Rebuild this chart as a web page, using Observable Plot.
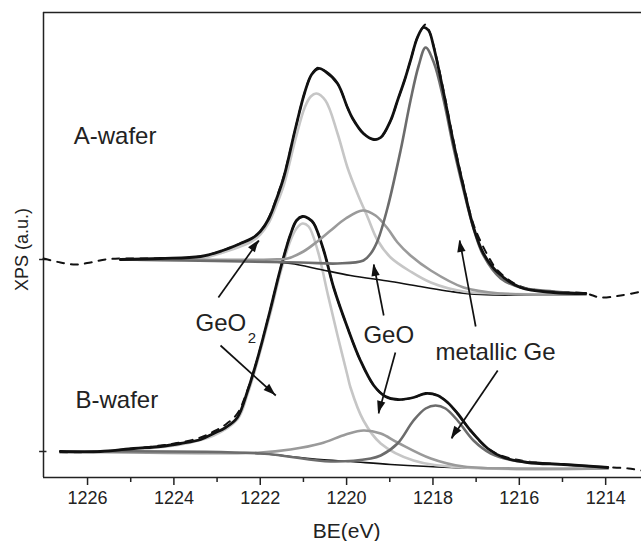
<!DOCTYPE html>
<html><head><meta charset="utf-8">
<script src="https://cdn.jsdelivr.net/npm/d3@7"></script>
<script src="https://cdn.jsdelivr.net/npm/@observablehq/plot@0.6"></script>
<style>body{margin:0;background:#fff;} #chart{width:641px;height:541px;}</style>
</head><body><div id="chart"></div>
<script>
// ---------- data: [binding energy (eV), intensity (a.u.)] ----------
// A-wafer
const aRaw = [[1227.02,219],[1226.63,215],[1226.28,213],[1225.93,215],[1225.58,218],[1225.24,219],[1224.31,219],[1223.38,221],[1222.87,227],[1222.46,234],[1222.20,239],[1222.00,246],[1221.80,260],[1221.62,280],[1221.45,302],[1221.18,350],[1220.97,385],[1220.81,403],[1220.65,410],[1220.49,406],[1220.21,394],[1219.98,370],[1219.86,359],[1219.61,344],[1219.37,338],[1219.21,340],[1218.98,357],[1218.82,377],[1218.66,397],[1218.52,417],[1218.36,440],[1218.17,453],[1218.10,448],[1217.98,431],[1217.75,386],[1217.52,336],[1217.29,292],[1217.06,253],[1216.73,222],[1216.50,207],[1215.97,191],[1215.21,186],[1214.46,184],[1214.12,180],[1213.65,182],[1213.17,186]];
const aEnvelope = [[1225.24,218],[1224.31,219],[1223.38,221],[1222.87,227],[1222.46,234],[1222.20,239],[1222.00,246],[1221.80,259],[1221.62,279],[1221.45,301],[1221.18,350],[1220.97,385],[1220.81,403],[1220.65,409],[1220.49,406],[1220.21,394],[1219.98,370],[1219.86,359],[1219.61,344],[1219.37,338],[1219.21,340],[1218.98,357],[1218.82,377],[1218.66,397],[1218.52,417],[1218.36,440],[1218.22,450],[1218.10,447],[1217.98,430],[1217.75,384],[1217.52,334],[1217.29,290],[1217.06,250],[1216.83,224],[1216.50,205],[1215.97,190],[1215.21,185],[1214.46,184]];
const aGeO2 = [[1225.24,218],[1223.38,219],[1222.87,225],[1222.20,236],[1222.00,243],[1221.80,255],[1221.62,273],[1221.45,293],[1221.18,339],[1220.97,370],[1220.83,381],[1220.70,384],[1220.49,377],[1220.21,344],[1219.98,310],[1219.75,284],[1219.51,260],[1219.28,237],[1218.98,220],[1218.52,206],[1218.05,195],[1217.29,186],[1216.43,184],[1214.46,183]];
const aGeO = [[1225.24,218],[1221.76,218],[1221.37,219],[1221.00,226],[1220.65,237],[1220.37,247],[1220.02,259],[1219.63,267],[1219.33,262],[1219.05,249],[1218.82,235],[1218.52,222],[1218.05,207],[1217.29,190],[1216.43,184],[1214.46,183]];
const aMetal = [[1225.24,218],[1221.07,215],[1220.21,214],[1219.61,217],[1219.44,224],[1219.28,237],[1219.05,270],[1218.75,327],[1218.52,377],[1218.33,412],[1218.17,430],[1217.98,415],[1217.75,377],[1217.52,329],[1217.29,287],[1217.06,249],[1216.83,222],[1216.43,199],[1215.97,190],[1215.21,186],[1214.46,184]];
const aBackground = [[1225.24,218],[1222.22,217],[1221.30,214],[1220.60,208],[1219.91,202],[1218.98,196],[1218.29,191],[1217.59,186],[1216.90,183],[1214.46,183]];
// B-wafer
const bRaw = [[1226.63,25],[1225.70,26],[1224.93,29],[1224.31,32],[1223.85,35],[1223.38,40],[1223.08,46],[1222.80,53],[1222.53,64],[1222.29,88],[1222.11,112],[1221.95,137],[1221.76,169],[1221.53,209],[1221.30,243],[1221.16,257],[1221.02,261],[1220.88,259],[1220.76,254],[1220.53,227],[1220.30,190],[1219.98,150],[1219.68,117],[1219.37,92],[1219.10,81],[1218.82,78],[1218.45,80],[1218.17,84],[1217.89,82],[1217.66,75],[1217.43,64],[1217.13,47],[1216.73,29],[1216.36,21],[1215.81,16],[1214.97,13],[1213.95,10],[1213.84,10],[1213.47,9],[1213.17,7]];
const bEnvelope = [[1226.63,26],[1225.70,26],[1224.93,29],[1224.31,31],[1223.85,34],[1223.38,38],[1223.08,44],[1222.80,50],[1222.53,60],[1222.29,87],[1222.11,112],[1221.95,137],[1221.76,169],[1221.53,209],[1221.30,243],[1221.16,257],[1221.02,261],[1220.88,259],[1220.76,254],[1220.53,227],[1220.30,190],[1219.98,150],[1219.68,117],[1219.37,92],[1219.10,81],[1218.82,78],[1218.45,80],[1218.17,84],[1217.89,82],[1217.66,75],[1217.43,64],[1217.13,47],[1216.73,29],[1216.36,20],[1215.81,15],[1214.97,13],[1213.95,10]];
const bGeO2 = [[1226.63,25],[1224.93,28],[1223.85,33],[1223.08,42],[1222.53,58],[1222.29,84],[1222.11,109],[1221.95,134],[1221.76,165],[1221.53,205],[1221.30,237],[1221.16,249],[1221.02,254],[1220.88,251],[1220.67,227],[1220.44,184],[1220.21,142],[1219.98,102],[1219.91,90],[1219.61,57],[1219.21,34],[1218.45,17],[1217.29,10],[1213.95,9]];
const bGeO = [[1226.63,26],[1221.99,25],[1221.30,28],[1220.60,34],[1220.02,43],[1219.61,47],[1219.21,44],[1218.82,35],[1218.05,19],[1217.29,11],[1213.95,9]];
const bMetal = [[1226.63,26],[1221.99,24],[1220.37,16],[1219.44,19],[1219.21,22],[1218.82,34],[1218.45,57],[1218.17,69],[1217.94,72],[1217.71,69],[1217.43,57],[1217.06,37],[1216.66,24],[1216.13,17],[1214.97,13],[1213.95,10]];
const bBackground = [[1226.63,26],[1223.38,25],[1221.99,24],[1221.30,21],[1220.60,18],[1219.91,16],[1218.98,13],[1217.59,10],[1215.97,9],[1213.95,9]];

// axes
const xDomain = [1227.02, 1213.17];
const yDomain = [0, 465];
const xTicks = [1226, 1224, 1222, 1220, 1218, 1216, 1214];
const xMinorTicks = [1225, 1223, 1221, 1219, 1217, 1215];
const yTicks = [218, 26];
const xLabel = "BE(eV)";
const yLabel = "XPS (a.u.)";

// annotations
const labels = [
  {text: "A-wafer", be: 1226.32, i: 341, size: 24},
  {text: "B-wafer", be: 1226.28, i: 77, size: 24},
  {text: "GeO", be: 1223.50, i: 154, size: 24},
  {text: "2", be: 1222.29, i: 139, size: 15},
  {text: "GeO", be: 1219.61, i: 142, size: 24},
  {text: "metallic Ge", be: 1217.94, i: 125, size: 24}
];
const arrows = [
  {x1: 1222.97, y1: 180, x2: 1222.03, y2: 237},
  {x1: 1222.92, y1: 132, x2: 1221.64, y2: 82},
  {x1: 1219.14, y1: 162, x2: 1219.37, y2: 213},
  {x1: 1218.87, y1: 125, x2: 1219.26, y2: 64},
  {x1: 1217.01, y1: 151, x2: 1217.38, y2: 237},
  {x1: 1216.50, y1: 107, x2: 1217.57, y2: 39}
];

// ---------- drawing ----------
const pts = arr => arr.map(([be, i]) => ({be, i}));
const curve = (arr, opts) => Plot.line(pts(arr), {x: "be", y: "i", curve: "catmull-rom", strokeLinejoin: "round", strokeLinecap: "round", ...opts});
const RAW = {stroke: "#111", strokeWidth: 2, strokeDasharray: "7,7"};
const BG = {stroke: "#111", strokeWidth: 1.6};
const C_GEO2 = {stroke: "#c6c6c6", strokeWidth: 2.6};
const C_GEO = {stroke: "#9a9a9a", strokeWidth: 2.6};
const C_MET = {stroke: "#6c6c6c", strokeWidth: 2.6};
const ENV = {stroke: "#111", strokeWidth: 2.8};

const svg = Plot.plot({
  width: 641, height: 541,
  marginLeft: 43, marginRight: 0, marginTop: 12, marginBottom: 64,
  x: {domain: xDomain, axis: null},
  y: {domain: yDomain, axis: null},
  style: {fontFamily: "'Liberation Sans', Arial, sans-serif", background: "#fff", color: "#222", overflow: "visible"},
  marks: [
    // frame
    Plot.ruleY([yDomain[0]], {stroke: "#222", strokeWidth: 1.5}),
    Plot.ruleY([yDomain[1]], {stroke: "#222", strokeWidth: 1.5}),
    Plot.ruleX([xDomain[0]], {stroke: "#222", strokeWidth: 1.5}),
    // ticks
    Plot.ruleX(xTicks, {y1: 0, y2: -8, stroke: "#222", strokeWidth: 1.5}),
    Plot.ruleX(xMinorTicks, {y1: 0, y2: -5, stroke: "#222", strokeWidth: 1.5}),
    Plot.ruleY(yTicks, {x1: 1227.11, x2: 1226.94, stroke: "#222", strokeWidth: 1.5}),
    Plot.text(xTicks, {x: d => d, y: -21, text: d => String(d), fontSize: 18, fill: "#222"}),
    Plot.text([xLabel], {x: 1220.0, y: -54, text: d => d, fontSize: 21, fill: "#222"}),
    Plot.text([yLabel], {x: 1227.51, y: 228, text: d => d, rotate: -90, fontSize: 18, fill: "#222"}),
    // B-wafer
    curve(bRaw, RAW),
    curve(bBackground, BG),
    curve(bGeO2, C_GEO2),
    curve(bGeO, C_GEO),
    curve(bMetal, C_MET),
    curve(bEnvelope, ENV),
    // A-wafer
    curve(aRaw, RAW),
    curve(aBackground, BG),
    curve(aGeO2, C_GEO2),
    curve(aGeO, C_GEO),
    curve(aMetal, C_MET),
    curve(aEnvelope, ENV),
    // annotations
    Plot.text(labels, {x: "be", y: "i", text: "text", fontSize: d => d.size, textAnchor: "start", fill: "#222"}),
    Plot.link(arrows, {x1: "x1", y1: "y1", x2: "x2", y2: "y2", stroke: "#111", strokeWidth: 1.7})
  ]
});

// filled arrow heads, positioned through the plot's own scales
const sx = svg.scale("x"), sy = svg.scale("y");
d3.select(svg).append("g").selectAll("path").data(arrows).join("path")
  .attr("fill", "#111")
  .attr("d", d => {
    const X1 = sx.apply(d.x1), Y1 = sy.apply(d.y1), X2 = sx.apply(d.x2), Y2 = sy.apply(d.y2);
    const a = Math.atan2(Y2 - Y1, X2 - X1), L = 12, W = 4.2;
    const bx = X2 - L * Math.cos(a), by = Y2 - L * Math.sin(a);
    const px = -Math.sin(a) * W, py = Math.cos(a) * W;
    return `M${X2},${Y2}L${bx + px},${by + py}L${bx - px},${by - py}Z`;
  });

document.getElementById("chart").appendChild(svg);
</script>
</body></html>
